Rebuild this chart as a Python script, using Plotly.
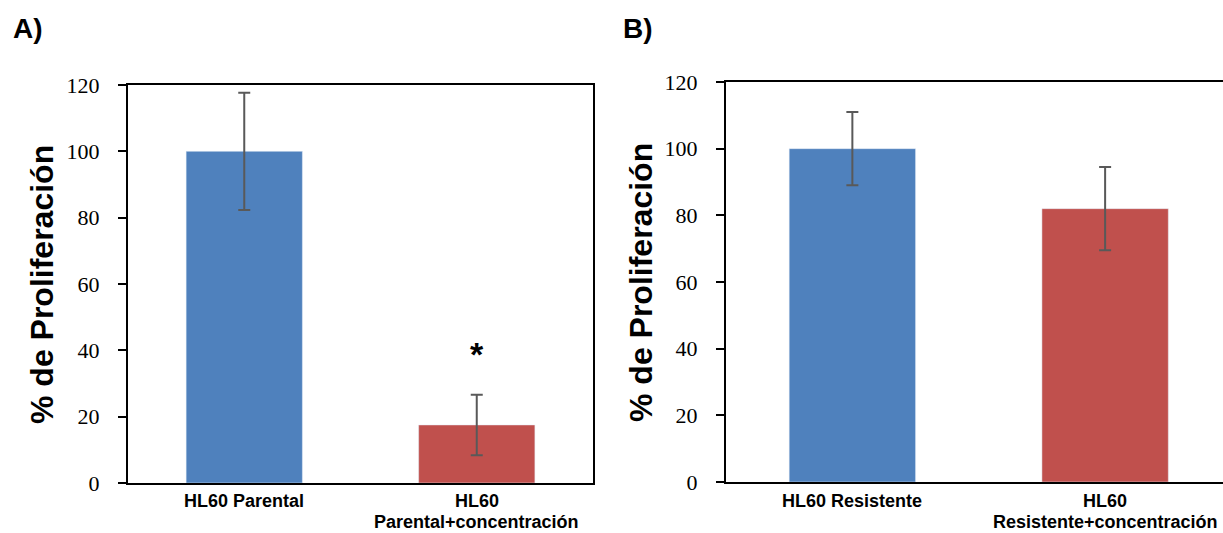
import plotly.graph_objects as go

categories_A = ["HL60 Parental", "HL60<br>Parental+concentración"]
values_A = [100, 17.5]
errors_A = [17.7, 9.1]

categories_B = ["HL60 Resistente", "HL60<br>Resistente+concentración"]
values_B = [100, 82]
errors_B = [11, 12.5]

bar_colors = ["#4F81BD", "#C0504D"]
ytick_vals = [0, 20, 40, 60, 80, 100, 120]
y_title = "% de Proliferación"

W, H = 1223, 533

fig = go.Figure()
fig.add_trace(go.Bar(
    x=categories_A, y=values_A, marker_color=bar_colors, width=0.5,
    error_y=dict(type="data", array=errors_A, color="#595959", thickness=2, width=6),
    xaxis="x", yaxis="y", showlegend=False))
fig.add_trace(go.Bar(
    x=categories_B, y=values_B, marker_color=bar_colors, width=0.5,
    error_y=dict(type="data", array=errors_B, color="#595959", thickness=2, width=6),
    xaxis="x2", yaxis="y2", showlegend=False))

tickfont_y = dict(family="Liberation Serif", size=22, color="black")
catfont = dict(family="Arial", size=18, color="black", weight="bold")

yax = dict(range=[0, 120], tickvals=ytick_vals, showgrid=False, zeroline=False,
           showline=True, linecolor="black", linewidth=2, ticks="outside",
           ticklen=8, tickwidth=2, tickcolor="black", tickfont=tickfont_y,
           ticklabelstandoff=14, automargin=False)
xax = dict(showgrid=False, zeroline=False, showline=True, linecolor="black",
           linewidth=2, ticks="", showticklabels=False, automargin=False,
           type="category")

fig.update_layout(
    width=W, height=H,
    margin=dict(l=0, r=0, t=0, b=0),
    plot_bgcolor="white", paper_bgcolor="white",
    xaxis=dict(**xax, domain=[128 / W, 593 / W], range=[-0.5, 1.5], mirror=True, anchor="y"),
    yaxis=dict(**yax, domain=[(H - 483) / H, (H - 85) / H], mirror=True, anchor="x"),
    xaxis2=dict(**xax, domain=[726 / W, 1.0], range=[-0.5, 1.5 - 8.5 / 253], mirror=True, anchor="y2"),
    yaxis2=dict(**yax, domain=[(H - 482) / H, (H - 82) / H], mirror=False, anchor="x2"),
)

# category labels, one annotation per line
line_y = [501, 522]
for xref, cats in (("x", categories_A), ("x2", categories_B)):
    for c in cats:
        for i, line in enumerate(c.split("<br>")):
            fig.add_annotation(text=line, xref=xref, yref="paper", x=c, y=(H - line_y[i]) / H,
                               showarrow=False, font=catfont, xanchor="center", yanchor="middle",
                               borderpad=0)

title_font = dict(family="Arial", size=32, color="black", weight="bold")
label_font = dict(family="Arial", size=28, color="black", weight="bold")
fig.add_annotation(text=y_title, xref="paper", yref="paper", x=42 / W, y=(H - 285) / H,
                   textangle=-90, showarrow=False, font=title_font, xanchor="center", yanchor="middle")
fig.add_annotation(text=y_title, xref="paper", yref="paper", x=641 / W, y=(H - 283) / H,
                   textangle=-90, showarrow=False, font=title_font, xanchor="center", yanchor="middle")
fig.add_annotation(text="A)", xref="paper", yref="paper", x=11 / W, y=(H - 28) / H,
                   showarrow=False, font=label_font, xanchor="left", yanchor="middle")
fig.add_annotation(text="B)", xref="paper", yref="paper", x=621 / W, y=(H - 28) / H,
                   showarrow=False, font=label_font, xanchor="left", yanchor="middle")
fig.add_annotation(text="*", xref="x", yref="y", x=categories_A[1], y=39,
                   showarrow=False, font=dict(family="Arial", size=34, color="black", weight="bold"),
                   xanchor="center", yanchor="middle")

fig.write_html("out.html")
